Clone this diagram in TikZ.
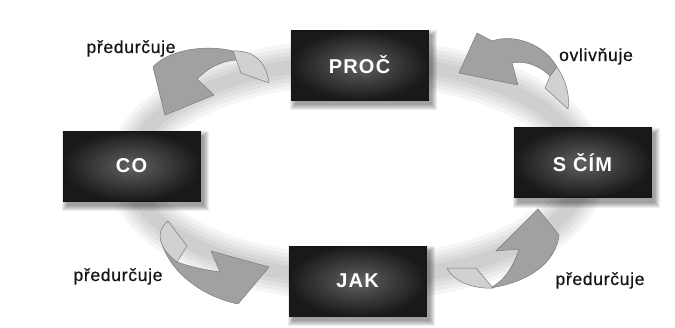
\documentclass[tikz,border=0pt]{standalone}
\usepackage{fontspec}
\setmainfont{Liberation Sans}
\usetikzlibrary{calc}

\begin{document}
\begin{tikzpicture}[x=1pt,y=-1pt,
  box/.style={rectangle, minimum width=137pt, minimum height=70pt, inner sep=0pt,
    text=white, inner color=black!62, outer color=black!90, draw=black!92, line width=0.6pt,
    font=\fontsize{20}{20}\selectfont\bfseries\addfontfeature{LetterSpace=6}},
  lbl/.style={anchor=base, inner sep=0pt, text=black!92,
    font=\fontsize{17.5}{17.5}\selectfont\addfontfeature{LetterSpace=4,FakeBold=0.6}},
  arrowtop/.style={fill=black!37, draw=black!52, line width=0.5pt, line join=round},
  arrowback/.style={fill=black!18, draw=black!52, line width=0.5pt, line join=round},
]
\useasboundingbox (0,0) rectangle (675,327);
\fill[white] (0,0) rectangle (675,327);

% soft grey ring behind the cycle
\foreach \w in {46,38,30,22,14}
  \draw[black, opacity=0.04, line width=\w pt] (357,170) ellipse [x radius=226pt, y radius=108pt];

% blurred drop shadows of the boxes
\foreach \x/\y in {359.5/65, 131.5/166, 582.5/162.5, 357.5/281}
  \foreach \k in {0,...,5}
    \fill[black, opacity=0.07] (\x-68.5+4-\k, \y-35+5-\k) rectangle (\x+68.5+4+\k, \y+35+5+\k);

% boxes
\node[box] (proc) at (359.5,65) {PROČ};
\node[box] (co) at (131.5,166) {CO};
\node[box] (scim) at (582.5,162.5) {S ČÍM};
\node[box] (jak) at (357.5,281) {JAK};

% curved ribbon arrow: PROČ -> CO
\draw[arrowtop] (233,51) .. controls (205,44) and (168,50) .. (153,67) -- (165,115) -- (214,95) -- (197,79)
  .. controls (210,66) and (225,60) .. (238,60) -- cycle;
\draw[arrowback] (233,51) .. controls (252,50) and (266,60) .. (269,83) -- (241,73) -- cycle;

% curved ribbon arrow: S ČÍM -> PROČ
\draw[arrowtop] (459,73) -- (477,33) -- (492,41) .. controls (515,33) and (545,45) .. (557,67) -- (550,76)
  .. controls (540,66) and (525,60) .. (512,63) -- (518,85) -- cycle;
\draw[arrowback] (557,67) .. controls (566,80) and (570,95) .. (568,109) -- (545,88) -- (550,76) -- cycle;

% curved ribbon arrow: CO -> JAK
\draw[arrowtop] (161,240) .. controls (168,270) and (200,296) .. (238,304) -- (269,267) -- (211,251) -- (220,272)
  .. controls (205,270) and (188,266) .. (177,262) -- cycle;
\draw[arrowback] (168,221) -- (187,246) -- (177,262) .. controls (168,255) and (161,247) .. (160,237)
  .. controls (160,230) and (163,225) .. (168,221) -- cycle;

% curved ribbon arrow: JAK -> S ČÍM
\draw[arrowtop] (490,288) .. controls (530,282) and (556,262) .. (559,235) -- (538,209) -- (496,251) -- (519,249)
  .. controls (513,268) and (503,282) .. (490,288) -- cycle;
\draw[arrowback] (447,268) -- (476,268) -- (493,288) .. controls (475,289) and (455,283) .. (447,268) -- cycle;

% labels
\node[lbl] (l1) at (131,53) {předurčuje};
\node[lbl] (l2) at (596,61) {ovlivňuje};
\node[lbl] (l3) at (118,281) {předurčuje};
\node[lbl] (l4) at (600,285) {předurčuje};
\end{tikzpicture}
\end{document}
